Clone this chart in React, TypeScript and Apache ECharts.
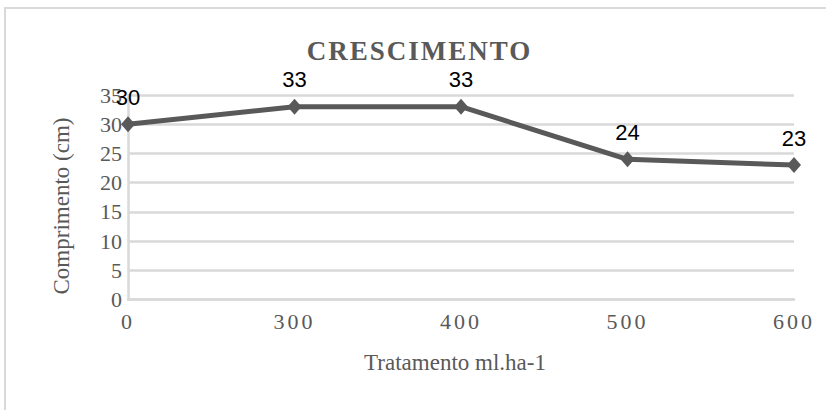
import React, { useEffect, useRef } from "react";
import * as echarts from "echarts";

const titleText = "CRESCIMENTO";
const xAxisTitle = "Tratamento ml.ha-1";
const yAxisTitle = "Comprimento (cm)";
const categories = ["0", "300", "400", "500", "600"];
const values = [30, 33, 33, 24, 23];
const yMin = 0;
const yMax = 35;
const yInterval = 5;

const GRAY = "#595959";
const GRID = "#d9d9d9";
const SERIF = "'Liberation Serif', 'Times New Roman', serif";
const SANS = "'Liberation Sans', Arial, sans-serif";

export default function App() {
  const ref = useRef<HTMLDivElement>(null);

  useEffect(() => {
    if (!ref.current) return;
    const chart = echarts.init(ref.current, undefined, { renderer: "svg" });
    chart.setOption({
      animation: false,
      backgroundColor: "#ffffff",
      grid: { left: 128, right: 32, top: 95, bottom: 110.5, containLabel: false },
      graphic: [
        {
          type: "rect",
          silent: true,
          shape: { x: 5, y: 8, width: 840, height: 430 },
          style: { fill: "none", stroke: GRID, lineWidth: 2 },
        },
        {
          type: "text",
          x: 419.5,
          y: 51,
          style: {
            text: titleText,
            font: `bold 27px ${SERIF}`,
            lineHeight: 26,
            fill: GRAY,
            align: "center",
            verticalAlign: "middle",
          },
        },
        {
          type: "text",
          x: 455,
          y: 362,
          style: {
            text: xAxisTitle,
            font: `23px ${SERIF}`,
            fill: GRAY,
            align: "center",
            verticalAlign: "middle",
          },
        },
        {
          type: "text",
          x: 61,
          y: 206,
          rotation: Math.PI / 2,
          style: {
            text: yAxisTitle,
            font: `23px ${SERIF}`,
            fill: GRAY,
            align: "center",
            verticalAlign: "middle",
          },
        },
      ],
      xAxis: {
        type: "category",
        data: categories,
        boundaryGap: false,
        axisLine: { show: true, lineStyle: { color: GRID, width: 2.5 } },
        axisTick: { show: false },
        splitLine: { show: false },
        axisLabel: {
          color: GRAY,
          fontFamily: SERIF,
          fontSize: 22,
          margin: 11,
          interval: 0,
        },
      },
      yAxis: {
        type: "value",
        min: yMin,
        max: yMax,
        interval: yInterval,
        axisLine: { show: true, lineStyle: { color: GRID, width: 2.5 } },
        axisTick: { show: false },
        splitLine: { show: true, lineStyle: { color: GRID, width: 2.5 } },
        axisLabel: {
          color: GRAY,
          fontFamily: SERIF,
          fontSize: 22,
          margin: 6,
        },
      },
      series: [
        {
          type: "line",
          data: values,
          symbol: "diamond",
          symbolSize: [14, 16],
          lineStyle: { color: GRAY, width: 5 },
          itemStyle: { color: GRAY },
          label: {
            show: true,
            position: "top",
            distance: 9,
            color: "#000000",
            fontFamily: SANS,
            fontSize: 22,
            lineHeight: 20,
          },
        },
      ],
    });

    const applySpacing = () => {
      const root = ref.current;
      if (!root) return;
      const rootRect = root.getBoundingClientRect();
      root.querySelectorAll("text").forEach((t) => {
        const s = (t.textContent || "").trim();
        if (s === titleText) {
          (t as SVGTextElement).style.letterSpacing = "2px";
        } else if (categories.includes(s)) {
          const r = t.getBoundingClientRect();
          if (r.top - rootRect.top > 305) {
            (t as SVGTextElement).style.letterSpacing = "3px";
          }
        }
      });
    };
    applySpacing();
    const tm = window.setTimeout(applySpacing, 50);

    return () => {
      window.clearTimeout(tm);
      chart.dispose();
    };
  }, []);

  return (
    <div
      ref={ref}
      style={{ position: "fixed", left: 0, top: 0, width: 826, height: 410, background: "#fff" }}
    />
  );
}
